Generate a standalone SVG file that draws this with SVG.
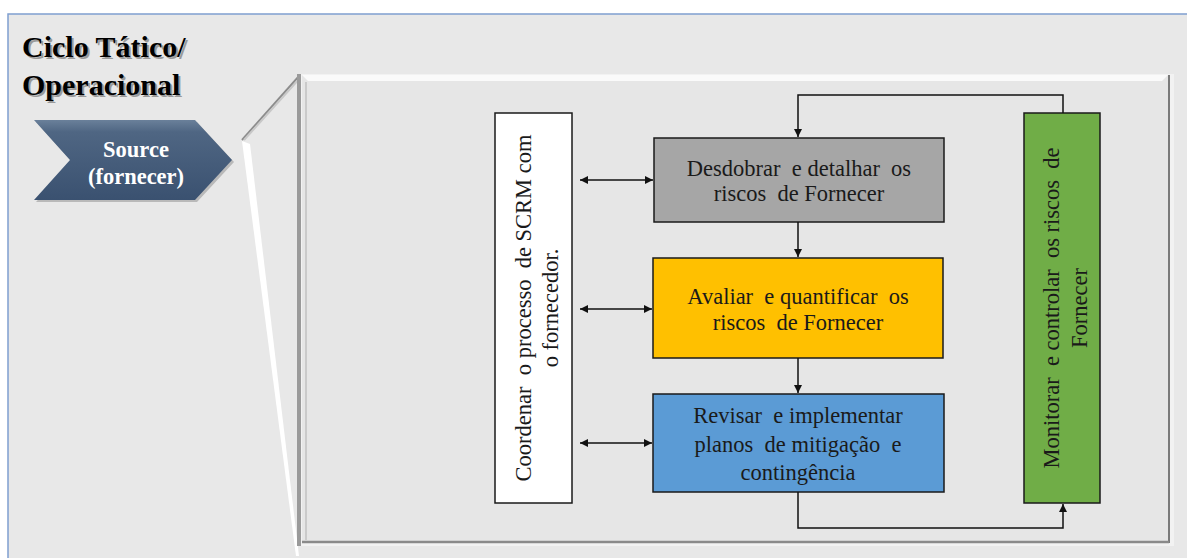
<svg xmlns="http://www.w3.org/2000/svg" width="1187" height="558" viewBox="0 0 1187 558">
<defs>
<style>
.t{font-size:22.5px;fill:#1a1a1a;text-anchor:middle;white-space:pre}
.box{stroke:#1a1a1a;stroke-width:1.5}
.c{fill:none;stroke:#111;stroke-width:1.5}
.w{font-weight:bold;font-size:22.5px;fill:#fff;text-anchor:middle}
.h{font-weight:bold;font-size:30px;fill:#000}
</style>
<marker id="ah" viewBox="0 0 10 10" refX="10" refY="5" markerWidth="8" markerHeight="8" markerUnits="userSpaceOnUse" orient="auto-start-reverse">
<path d="M0,0 L10,5 L0,10 z" fill="#111"/>
</marker>
<linearGradient id="chev" x1="0" y1="0" x2="0" y2="1">
<stop offset="0" stop-color="#6a809a"/>
<stop offset="0.15" stop-color="#4f6683"/>
<stop offset="1" stop-color="#3a5170"/>
</linearGradient>
</defs>
<rect x="0" y="0" width="1187" height="558" fill="#ffffff"/>
<rect x="8" y="14" width="1190" height="560" fill="#e8e8e8" stroke="#7f9fd0" stroke-width="1.5"/>

<g font-family="Liberation Serif, Times New Roman, serif">
<g id="title">
<text class="h" x="24" y="59" style="fill:#9a9a9a">Ciclo Tático/</text>
<text class="h" x="24" y="97" style="fill:#9a9a9a">Operacional</text>
<text class="h" x="22" y="57">Ciclo Tático/</text>
<text class="h" x="22" y="95">Operacional</text>
</g>

<g id="source">
<polygon points="36,122 197,122 234,162 197,202 36,202 72,162" fill="#8a8a8a" opacity="0.5"/>
<polygon points="34,120 195,120 232,160 195,200 34,200 70,160" fill="url(#chev)"/>
<text class="w" x="136" y="157">Source</text>
<text class="w" x="136" y="184">(fornecer)</text>
</g>

<g id="panel">
<polygon points="300,75 242,140 298,556" fill="#e8e8e8"/>
<polyline points="300,75 242,140" fill="none" stroke="#8c8c8c" stroke-width="2"/>
<polygon points="242,141 250,144 299,556 296,556" fill="#ffffff"/>
<line x1="244" y1="140" x2="300" y2="78" stroke="#c8c8c8" stroke-width="2"/>
<rect x="298" y="74" width="876" height="472" fill="#f2f2f2"/>
<rect x="297" y="74" width="4" height="472" fill="#9a9a9a"/>
<rect x="302" y="75" width="866" height="466" fill="#e6e6e6"/>
<polygon points="302,75 1168,75 1162,81 308,81" fill="#fafafa"/>
<line x1="1169" y1="75" x2="1169" y2="543" stroke="#7a7a7a" stroke-width="2"/>
<line x1="302" y1="542" x2="1169" y2="542" stroke="#8a8a8a" stroke-width="2.5"/>
<line x1="306" y1="82" x2="306" y2="540" stroke="#c0c0c0" stroke-width="1.5"/>
</g>

<g id="coordenar">
<rect class="box" x="495" y="113" width="77" height="390" fill="#ffffff"/>
<text class="t" transform="translate(531,308) rotate(-90)">Coordenar  o processo  de SCRM com</text>
<text class="t" transform="translate(558,308) rotate(-90)">o fornecedor.</text>
</g>

<g id="desdobrar">
<rect class="box" x="654" y="138" width="290" height="84" fill="#a6a6a6"/>
<text class="t" x="799" y="176">Desdobrar  e detalhar  os</text>
<text class="t" x="799" y="201">riscos  de Fornecer</text>
</g>

<g id="avaliar">
<rect class="box" x="653" y="258" width="290" height="100" fill="#ffc000"/>
<text class="t" x="798" y="304">Avaliar  e quantificar  os</text>
<text class="t" x="798" y="330">riscos  de Fornecer</text>
</g>

<g id="revisar">
<rect class="box" x="653" y="394" width="291" height="98" fill="#5b9bd5"/>
<text class="t" x="798" y="423">Revisar  e implementar</text>
<text class="t" x="798" y="452">planos  de mitigação  e</text>
<text class="t" x="798" y="480">contingência</text>
</g>

<g id="monitorar">
<rect class="box" x="1024" y="113" width="76" height="390" fill="#70ad47"/>
<text class="t" transform="translate(1059,308) rotate(-90)">Monitorar  e controlar  os riscos  de</text>
<text class="t" transform="translate(1087,308) rotate(-90)">Fornecer</text>
</g>
</g>

<g id="connectors">
<polyline class="c" points="1063,113 1063,95 798,95 798,137" marker-end="url(#ah)"/>
<line class="c" x1="798" y1="222" x2="798" y2="257" marker-end="url(#ah)"/>
<line class="c" x1="798" y1="358" x2="798" y2="393" marker-end="url(#ah)"/>
<polyline class="c" points="798,492 798,528 1063,528 1063,504" marker-end="url(#ah)"/>
<line class="c" x1="580" y1="180" x2="653" y2="180" marker-start="url(#ah)" marker-end="url(#ah)"/>
<line class="c" x1="580" y1="309" x2="652" y2="309" marker-start="url(#ah)" marker-end="url(#ah)"/>
<line class="c" x1="580" y1="443" x2="652" y2="443" marker-start="url(#ah)" marker-end="url(#ah)"/>
</g>
</svg>
